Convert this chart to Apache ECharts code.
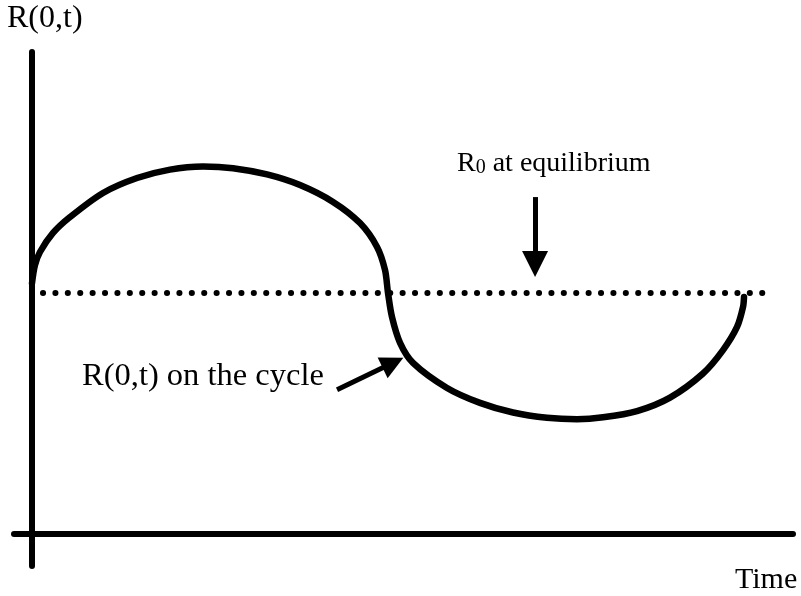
<!DOCTYPE html>
<html>
<head>
<meta charset="utf-8">
<script src="https://cdn.jsdelivr.net/npm/echarts@6/dist/echarts.min.js"></script>
<style>
  html, body { margin: 0; padding: 0; background: #fff; }
  #chart { width: 801px; height: 596px; }
</style>
</head>
<body>
<div id="chart"></div>
<script>
// R(0,t) on the cycle (time in arbitrary units, R0 = 1)
const timeVals = [0, 0.042, 0.112, 0.295, 0.534, 0.997, 1.475, 1.938, 2.402, 2.823, 3.301, 3.764, 4.228, 4.607, 4.846, 4.958, 5.0,
  5.056, 5.169, 5.351, 5.829, 6.292, 6.756, 7.233, 7.654, 8.02, 8.497, 8.961, 9.424, 9.705, 9.902, 9.986, 10.0];
const rVals = [1.041, 1.116, 1.17, 1.249, 1.315, 1.415, 1.477, 1.512, 1.525, 1.518, 1.492, 1.448, 1.378, 1.29, 1.191, 1.095, 1.0,
  0.9, 0.793, 0.71, 0.606, 0.544, 0.504, 0.482, 0.476, 0.484, 0.51, 0.566, 0.666, 0.763, 0.859, 0.942, 0.983];

// equilibrium level R0
const eqLevel = 1;
const eqTime = [0.154, 10.32];

// annotation arrows: [from, to] in data coords
const arrowEq = [[7.065, 1.398], [7.065, 1.12]];
const arrowCycle = [[4.284, 0.598], [5.07, 0.71]];

const chart = echarts.init(document.getElementById('chart'));

const axisStyle = { show: true, onZero: true, lineStyle: { color: '#000', width: 6 } };

chart.setOption({
  backgroundColor: '#fff',
  animation: false,
  grid: { left: 14, right: 8, top: 52, bottom: 30 },
  xAxis: {
    type: 'value', min: -0.253, max: 10.688,
    axisLine: axisStyle, axisTick: { show: false }, axisLabel: { show: false }, splitLine: { show: false }
  },
  yAxis: {
    type: 'value', min: -0.133, max: 2.0,
    axisLine: axisStyle, axisTick: { show: false }, axisLabel: { show: false }, splitLine: { show: false }
  },
  series: [
    {
      name: 'R0',
      type: 'line',
      data: eqTime.map(t => [t, eqLevel]),
      showSymbol: false,
      silent: true,
      lineStyle: { color: '#000', width: 6, type: [0.1, 12.3], cap: 'round' }
    },
    {
      name: 'R(0,t)',
      type: 'line',
      data: timeVals.map((t, i) => [t, rVals[i]]),
      showSymbol: false,
      smooth: 0.3,
      silent: true,
      lineStyle: { color: '#000', width: 6.5, cap: 'round' },
      markLine: {
        silent: true,
        label: { show: false },
        lineStyle: { color: '#000', width: 5, type: 'solid' },
        data: [
          [{ coord: arrowEq[0], symbol: 'none' }, { coord: arrowEq[1], symbol: 'triangle', symbolSize: 26 }],
          [{ coord: arrowCycle[0], symbol: 'none' }, { coord: arrowCycle[1], symbol: 'triangle', symbolSize: 23 }]
        ]
      }
    }
  ],
  graphic: [
    { type: 'text', x: 7, y: 19, style: { text: 'R(0,t)', font: '32px "Liberation Serif"', fill: '#000', verticalAlign: 'middle' } },
    { type: 'text', x: 735, y: 580, style: { text: 'Time', font: '30px "Liberation Serif"', fill: '#000', verticalAlign: 'middle' } },
    { type: 'text', x: 82, y: 376, style: { text: 'R(0,t) on the cycle', font: '32.5px "Liberation Serif"', fill: '#000', verticalAlign: 'middle' } },
    {
      type: 'text', x: 457, y: 163,
      style: {
        text: '{a|R}{b|0}{a| at equilibrium}',
        verticalAlign: 'middle',
        fill: '#000',
        rich: {
          a: { fontSize: 28, fontFamily: 'Liberation Serif', lineHeight: 30, verticalAlign: 'bottom', fill: '#000' },
          b: { fontSize: 20, fontFamily: 'Liberation Serif', lineHeight: 18, verticalAlign: 'bottom', fill: '#000' }
        }
      }
    }
  ]
});
</script>
</body>
</html>
